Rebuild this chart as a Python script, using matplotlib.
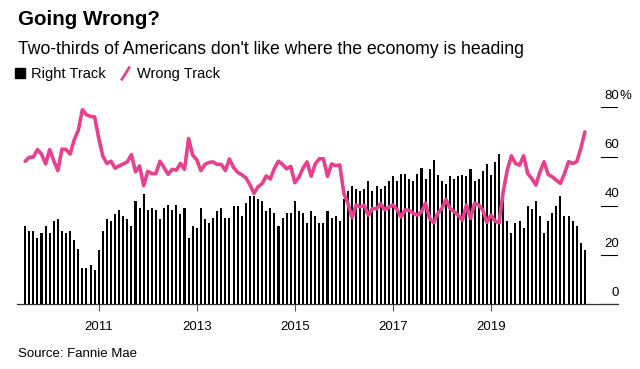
import matplotlib.pyplot as plt
import numpy as np
import pandas as pd
from matplotlib.lines import Line2D

plt.rcParams['font.family'] = ['Liberation Sans', 'DejaVu Sans']

# monthly survey readings, share of respondents (%)
months = pd.date_range('2009-07-01', periods=138, freq='MS')

right_track = [
    31.9, 29.9, 29.9, 26.8, 28.8, 31.9, 28.8, 33.8, 34.8, 29.9, 28.8, 29.9,
    26.0, 22.6, 14.9, 14.9, 15.8, 14.1, 21.9, 29.9, 34.8, 33.8, 36.8, 38.1,
    36.0, 34.8, 31.9, 41.9, 39.2, 44.8, 38.1, 39.2, 38.1, 34.8, 39.2, 40.2,
    38.1, 40.2, 36.8, 39.2, 26.8, 31.9, 30.8, 39.2, 34.8, 32.9, 34.9, 38.0,
    39.2, 34.9, 34.9, 39.9, 39.9, 36.0, 41.0, 44.1, 44.1, 42.7, 42.0, 38.0,
    39.2, 36.9, 31.9, 34.9, 36.9, 36.9, 42.0, 38.0, 36.9, 32.9, 38.0, 36.0,
    32.9, 32.9, 38.0, 34.9, 36.0, 33.9, 42.7, 46.1, 47.9, 46.9, 46.1, 46.9,
    50.0, 46.1, 47.9, 46.9, 47.9, 50.0, 52.0, 50.0, 52.9, 52.9, 50.8, 50.0,
    52.9, 55.4, 50.7, 54.8, 58.8, 52.7, 50.0, 48.8, 52.1, 50.7, 52.1, 52.7,
    52.1, 54.8, 50.0, 50.7, 54.1, 56.8, 52.7, 57.9, 60.9, 44.0, 33.8, 28.8,
    32.9, 34.0, 30.8, 40.0, 38.9, 41.9, 36.0, 28.8, 34.0, 36.9, 40.0, 44.1,
    36.0, 36.0, 34.0, 31.9, 24.7, 21.9,
]

wrong_track = [
    58.1, 59.7, 59.8, 62.8, 61.0, 57.0, 62.8, 58.3, 54.3, 63.0, 62.9, 61.0,
    66.8, 70.6, 79.0, 77.0, 76.3, 76.1, 67.5, 60.2, 57.2, 58.1, 55.3, 56.2,
    57.0, 57.8, 60.8, 53.8, 56.2, 48.2, 54.0, 53.1, 53.1, 58.1, 55.5, 52.8,
    54.8, 54.5, 57.2, 54.8, 67.3, 60.6, 58.7, 54.3, 56.8, 57.6, 57.8, 56.8,
    56.8, 54.3, 59.0, 55.6, 53.6, 52.6, 51.4, 48.6, 45.0, 47.7, 49.0, 52.1,
    50.9, 55.2, 58.1, 56.8, 55.0, 56.0, 49.4, 51.6, 55.3, 57.8, 52.0, 57.0,
    59.1, 59.1, 52.0, 57.0, 56.3, 56.6, 45.0, 41.0, 35.2, 40.3, 39.6, 40.1,
    36.2, 38.9, 38.8, 40.8, 38.4, 39.4, 40.3, 38.6, 35.4, 38.3, 38.2, 36.9,
    36.2, 37.6, 41.0, 34.9, 33.1, 36.9, 38.9, 42.6, 38.9, 37.6, 36.2, 34.1,
    40.3, 34.9, 41.0, 40.3, 38.3, 33.3, 36.2, 33.8, 33.1, 45.7, 54.5, 60.3,
    57.2, 56.5, 60.3, 53.1, 51.1, 48.4, 53.8, 57.9, 52.7, 51.8, 50.4, 49.1,
    53.1, 57.9, 57.2, 57.9, 63.3, 70.0,
]

tick_years = [2011, 2013, 2015, 2017, 2019]
y_levels = [0, 20, 40, 60, 80]

pink = '#e8408f'

fig = plt.figure(figsize=(6.4, 3.69), dpi=100)
ax = fig.add_axes([17/640, 1 - 304.3/369, 601/640, 197/369])

x = np.arange(len(months))
ax.bar(x, right_track, width=0.5, color='black')
ax.plot(x, wrong_track, color=pink, lw=2.6, solid_joinstyle='round',
        solid_capstyle='round', clip_on=False)

ax.set_xlim(-2.0, 145.1)
ax.set_ylim(0, 80)

# year ticks at January of the labelled years
tick_pos = [i for i, d in enumerate(months) if d.month == 1 and d.year in tick_years]
ax.set_xticks(tick_pos)
ax.set_xticklabels([str(y) for y in tick_years])
ax.tick_params(axis='x', length=5, width=0.8, color='#555555', labelsize=9.5, pad=7)
ax.set_yticks([])

for s in ['top', 'left', 'right']:
    ax.spines[s].set_visible(False)
ax.spines['bottom'].set_color('#333333')
ax.spines['bottom'].set_linewidth(0.9)

# right-hand value scale: short rules with the label sitting on top
ytr = ax.get_yaxis_transform()
for v in y_levels:
    ax.axhline(v, xmin=584/601, xmax=1, color='black', lw=0.8)
    ax.text(1.0017, v + 3.4, str(v), transform=ytr, ha='right', va='baseline', fontsize=9.5)
ax.text(1.0017, y_levels[-1] + 3.4, '%', transform=ytr, ha='left', va='baseline', fontsize=9.5)

fig.text(18/640, 1 - 25/369, 'Going Wrong?', fontsize=14.8, fontweight='bold', va='baseline')
fig.text(18/640, 1 - 54/369, "Two-thirds of Americans don't like where the economy is heading",
         fontsize=12.7, va='baseline')

handles = [
    Line2D([], [], marker='s', color='black', linestyle='none', markersize=6.5),
    Line2D([], [], marker=[(-1, -1.6), (1, 1.6)], color=pink, markeredgecolor=pink,
           linestyle='none', markersize=10, markeredgewidth=2),
]
fig.legend(handles, ['Right Track', 'Wrong Track'], loc='center left',
           bbox_to_anchor=(8/640, 1 - 74/369), ncol=2, frameon=False, fontsize=10.5,
           handlelength=0.8, handletextpad=0.4, columnspacing=0.9, borderaxespad=0)

fig.text(18/640, 1 - 357/369, 'Source: Fannie Mae', fontsize=9.5, va='baseline')

fig.savefig('out.png', dpi=100)
